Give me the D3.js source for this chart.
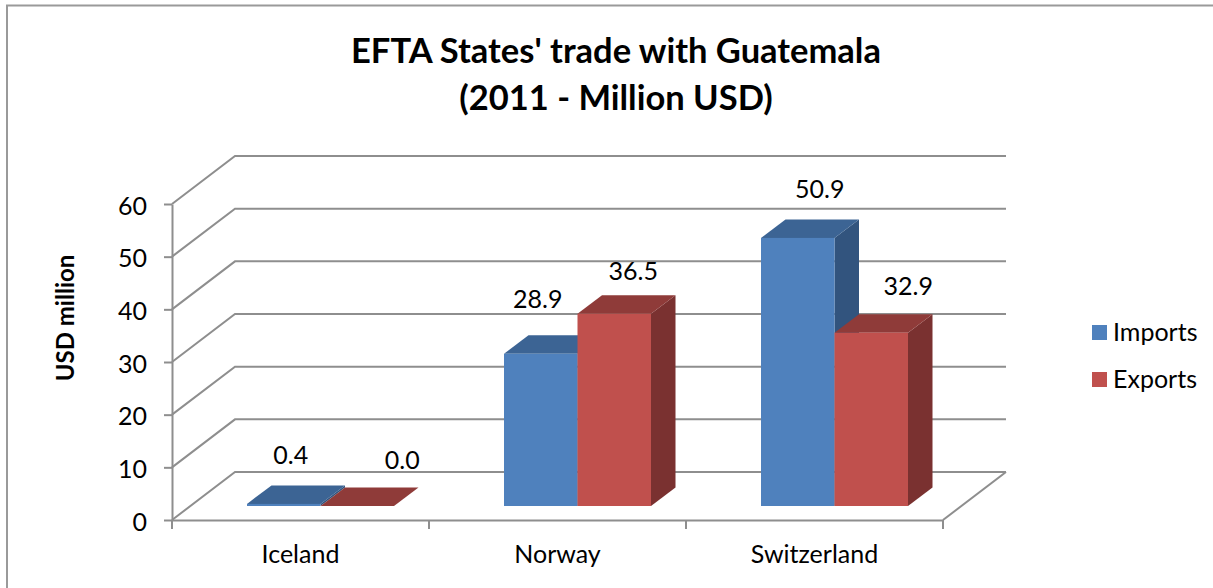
<!DOCTYPE html>
<html><head><meta charset="utf-8">
<script src="https://cdn.jsdelivr.net/npm/d3@7/dist/d3.min.js"></script>
<style>html,body{margin:0;padding:0;background:#fff;overflow:hidden}svg{display:block}text{font-family:Lato,"Open Sans",sans-serif;fill:#000}</style>
</head><body>
<svg id="c" width="1213" height="588"></svg>
<script>
const titleLines = ["EFTA States' trade with Guatemala", "(2011 - Million USD)"];
const yAxisTitle = "USD million";
const categories = ["Iceland", "Norway", "Switzerland"];
const seriesNames = ["Imports", "Exports"];
const imports = [0.4, 28.9, 50.9];
const exports_ = [0.0, 36.5, 32.9];
const yTicks = [0, 10, 20, 30, 40, 50, 60];

const svg = d3.select("#c");
const gray = "#8e8e8e";
const colors = {
  Imports: {front:"#4f81bd", top:"#3c6494", side:"#32547e"},
  Exports: {front:"#c0504d", top:"#8f3b39", side:"#7a3130"}
};

// frame: open on the right and the bottom, as the reference is cropped there
svg.append("path").attr("d","M7,588V5.5H1213").attr("fill","none").attr("stroke","#9a9a9a").attr("stroke-width",2);

// title
svg.append("text").attr("x",616).attr("y",0).attr("text-anchor","middle")
  .attr("font-size",34.5).attr("font-weight",700)
  .selectAll("tspan").data(titleLines).join("tspan")
  .attr("x",616).attr("y",(d,i)=>63+i*47).text(d=>d);

// scales
const y = d3.scaleLinear().domain([0,60]).range([520,204]);
const x = d3.scaleBand().domain(categories).range([172,943]);
const backDx = 63, backDy = -48;   // wall depth
const floorDx = 20, floorDy = -14; // bar front plane offset from the axis plane
const depthDx = 24.5, depthDy = -18.5; // bar depth

// gridlines on back wall and left wall
const grid = svg.append("g").attr("fill","none").attr("stroke",gray).attr("stroke-width",2);
yTicks.forEach(t=>{
  grid.append("path").attr("d",`M${x.range()[0]},${y(t)}L${x.range()[0]+backDx},${y(t)+backDy}H${x.range()[1]+backDx}`);
});
grid.append("path").attr("d",`M${x.range()[1]},${y(0)}L${x.range()[1]+backDx},${y(0)+backDy}`);

// axes
const yAxis = d3.axisLeft(y).tickValues(yTicks).tickSize(8).tickPadding(17).tickSizeOuter(0);
const gy = svg.append("g").attr("transform","translate(172,0)").call(yAxis);
gy.selectAll("line,path").attr("stroke",gray).attr("stroke-width",2);
gy.selectAll("text").attr("font-size",25).attr("font-family","Lato").attr("fill","#000").attr("dy","0.4em");

const gx = svg.append("g").attr("transform",`translate(0,${y(0)})`)
  .call(d3.axisBottom(x).tickSize(0).tickPadding(25).tickSizeOuter(0));
gx.selectAll("path").attr("stroke",gray).attr("stroke-width",2);
gx.selectAll("text").attr("font-size",25).attr("font-family","Lato").attr("fill","#000");
gx.selectAll(".bt").data(d3.range(categories.length+1)).join("line").attr("class","bt")
  .attr("x1",i=>172+i*x.step()).attr("x2",i=>172+i*x.step()).attr("y1",0).attr("y2",9)
  .attr("stroke",gray).attr("stroke-width",2);

// y axis title
svg.append("text").attr("transform","translate(74,318) rotate(-90)").attr("text-anchor","middle")
  .attr("font-size",24).attr("font-weight",700).text(yAxisTitle);

// bars
const barW = 73.5;
const inner = d3.scaleBand().domain(seriesNames).range([0,2*barW]);
const series = [{name:"Imports",values:imports},{name:"Exports",values:exports_}];
const labelNudge = {Imports:[[7,-48],[-3,-54],[22,-48]],Exports:[[45,-45],[19,-42],[37,-46]]};
const bars = svg.append("g");
const labels = [];
const barData = [];
categories.forEach((c,ci)=>series.forEach(s=>barData.push({c,ci,s:s.name,v:s.values[ci]})));
barData.forEach(d=>{
  const x0 = x(d.c)+floorDx+(x.bandwidth()-2*barW)/2+inner(d.s);
  const x1 = x0+barW;
  const yb = y(0)+floorDy;
  const yt = y(d.v)+floorDy;
  const col = colors[d.s];
  const g = bars.append("g");
  g.append("path").attr("fill",col.side).attr("d",`M${x1},${yt}L${x1+depthDx},${yt+depthDy}V${yb+depthDy}L${x1},${yb}Z`);
  g.append("path").attr("fill",col.top).attr("d",`M${x0},${yt}L${x0+depthDx},${yt+depthDy}H${x1+depthDx}L${x1},${yt}Z`);
  g.append("rect").attr("x",x0).attr("y",yt).attr("width",barW).attr("height",yb-yt).attr("fill",col.front);
  const n = labelNudge[d.s][d.ci];
  labels.push({x:x0+barW/2+n[0],y:yt+n[1]+8,t:d3.format(".1f")(d.v)});
});
svg.append("g").selectAll("text").data(labels).join("text")
  .attr("x",d=>d.x).attr("y",d=>d.y).attr("text-anchor","middle").attr("font-size",25).text(d=>d.t);

// legend
const lg = svg.append("g").selectAll("g").data(seriesNames).join("g")
  .attr("transform",(d,i)=>`translate(1092,${325+i*47})`);
lg.append("rect").attr("width",15).attr("height",15).attr("fill",d=>colors[d].front);
lg.append("text").attr("x",21).attr("y",15.5).attr("font-size",25).text(d=>d);
</script>
</body></html>
